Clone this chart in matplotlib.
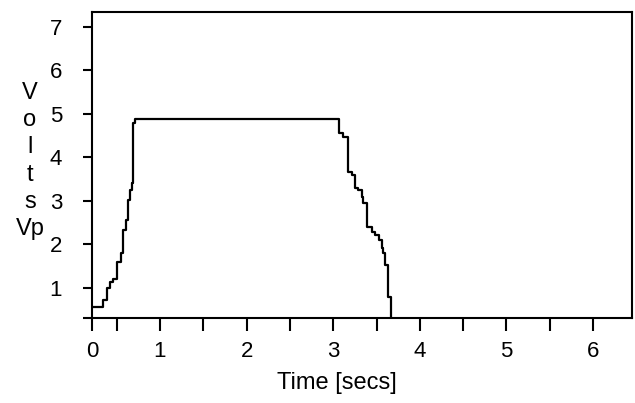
import matplotlib
matplotlib.use("Agg")
import matplotlib.pyplot as plt

# data (time in secs, volts peak)
time = [0.215, 0.327, 0.342, 0.388, 0.423, 0.457, 0.503, 0.503, 0.550, 0.573,
        0.607, 0.630, 0.654, 0.677, 0.688, 0.688, 0.711, 3.067, 3.067, 3.113,
        3.171, 3.171, 3.217, 3.252, 3.252, 3.286, 3.333, 3.344, 3.390, 3.390,
        3.448, 3.483, 3.529, 3.564, 3.575, 3.598, 3.633, 3.633, 3.667]
volts = [0.57, 0.57, 0.72, 1.00, 1.14, 1.21, 1.21, 1.60, 1.80, 2.33,
         2.56, 3.02, 3.25, 3.41, 3.94, 4.79, 4.89, 4.89, 4.56, 4.47,
         4.36, 3.67, 3.60, 3.55, 3.30, 3.25, 3.09, 2.95, 2.95, 2.40,
         2.29, 2.22, 2.10, 1.92, 1.80, 1.53, 1.48, 0.79, 0.31]

x_lo, x_hi = 0.215, 6.45
y_lo, y_hi = 0.31, 7.34
x_ticks = [x_lo, 1, 2, 3, 4, 5, 6]
x_labels = ["0", "1", "2", "3", "4", "5", "6"]
x_minor = [0.5, 1.5, 2.5, 3.5, 4.5, 5.5]
y_ticks = [y_lo, 1, 2, 3, 4, 5, 6, 7]
y_labels = ["", "1", "2", "3", "4", "5", "6", "7"]

plt.rcParams['font.family'] = ['Liberation Sans', 'DejaVu Sans']

fig = plt.figure(figsize=(6.35, 4.03), dpi=100)
ax = fig.add_axes([92/635, 1-318/403, 540/635, 306/403])

ax.plot(time, volts, color="black", lw=1.6, drawstyle="steps-post")

ax.set_xlim(x_lo, x_hi)
ax.set_ylim(y_lo, y_hi)
ax.set_xticks(x_ticks)
ax.set_xticklabels(x_labels)
ax.set_xticks(x_minor, minor=True)
ax.set_yticks(y_ticks)
ax.set_yticklabels(y_labels)

for s in ax.spines.values():
    s.set_linewidth(1.5)

ax.tick_params(axis="x", which="both", direction="out", length=9.5, width=1.5,
               pad=7, labelsize=16)
ax.tick_params(axis="y", direction="out", length=6.5, width=1.5,
               pad=15, labelsize=16)

fig.text(337/635, 1-383/403, "Time [secs]", ha="center", va="center",
         fontsize=17)
fig.text(30/635, 1-161/403, "V\no\nl\nt\ns\nVp", ha="center", va="center",
         multialignment="center", linespacing=1.3, fontsize=17)

fig.savefig("out.png", dpi=100)
